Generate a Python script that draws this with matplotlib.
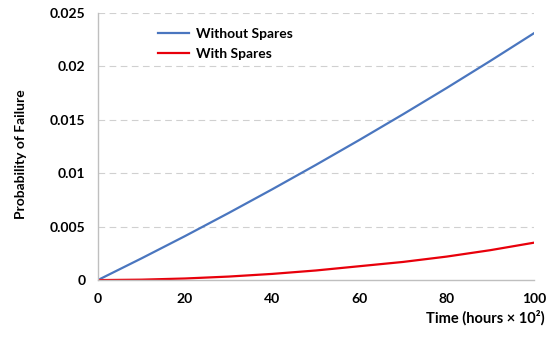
import matplotlib
matplotlib.use('Agg')
import matplotlib.pyplot as plt

# values
time = [0, 10, 20, 30, 40, 50, 60, 70, 80, 90, 100]
without_spares = [0, 0.00203, 0.00412, 0.00628, 0.0085, 0.01078, 0.01312, 0.01552, 0.01798, 0.02051, 0.0231]
with_spares = [0, 0.00004, 0.00015, 0.00033, 0.00058, 0.0009, 0.0013, 0.0017, 0.0022, 0.0028, 0.0035]
yticks = [0, 0.005, 0.01, 0.015, 0.02, 0.025]
yticklabels = ['0', '0.005', '0.01', '0.015', '0.02', '0.025']
xticks = [0, 20, 40, 60, 80, 100]

plt.rcParams['font.family'] = ['Lato', 'DejaVu Sans']
plt.rcParams['font.weight'] = 'bold'

fig = plt.figure(figsize=(5.59, 3.42), dpi=100)
ax = fig.add_axes([0.175, 0.181, 0.78, 0.781])

ax.plot(time, without_spares, color='#4a76bf', lw=1.6, label='Without Spares')
ax.plot(time, with_spares, color='#e8000b', lw=1.6, label='With Spares')

ax.set_xlim(0, 100)
ax.set_ylim(0, 0.025)
ax.set_xticks(xticks)
ax.set_xticklabels([str(t) for t in xticks])
ax.set_yticks(yticks)
ax.set_yticklabels(yticklabels)
ax.tick_params(length=0, labelsize=10, pad=9)
for lab in ax.get_xticklabels() + ax.get_yticklabels():
    lab.set_fontweight('bold')

for y in yticks[1:]:
    ax.axhline(y, color='#d0d0d0', lw=0.8, dashes=(6, 4), zorder=0)

for s in ['top', 'right']:
    ax.spines[s].set_visible(False)
for s in ['left', 'bottom']:
    ax.spines[s].set_color('#bfbfbf')
    ax.spines[s].set_linewidth(1.0)

ax.legend(loc='upper left', bbox_to_anchor=(0.11, 0.99), frameon=False,
          fontsize=10, handlelength=2.2, handletextpad=0.5, labelspacing=0.55,
          prop={'weight': 'bold', 'size': 10})

fig.text(0.038, 0.55, 'Probability of Failure', rotation=90, ha='center', va='center',
         fontsize=10, fontweight='bold')
fig.text(0.975, 0.07, 'Time (hours \u00d7 10\u00b2)', ha='right', va='center',
         fontsize=10.5, fontweight='bold')

fig.savefig('out.png', dpi=100)
